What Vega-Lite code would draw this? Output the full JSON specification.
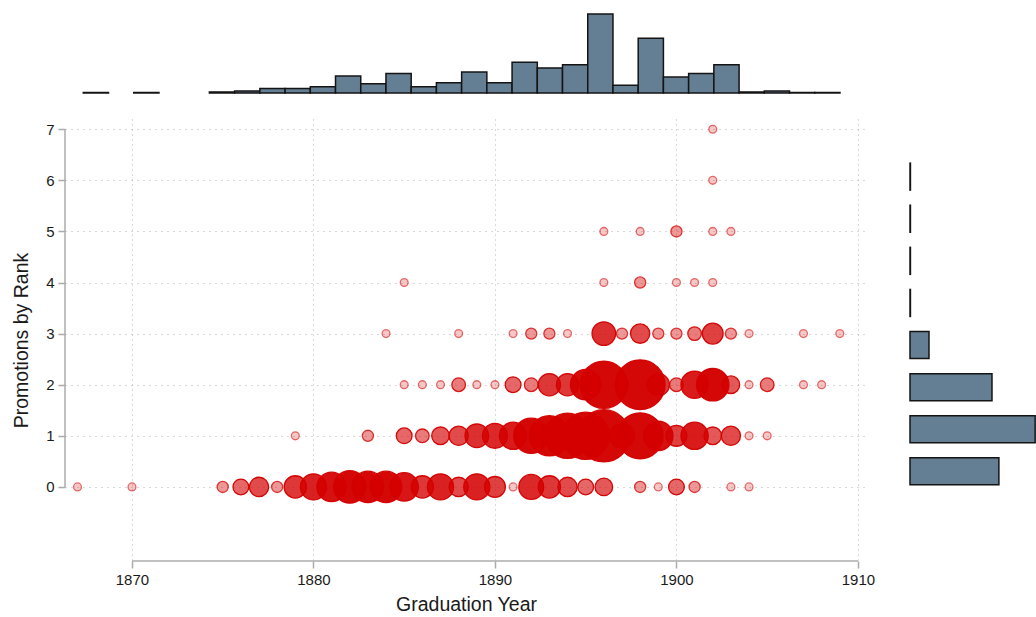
{
  "$schema": "https://vega.github.io/schema/vega-lite/v6.json",
  "background": "white",
  "padding": {"left": 11, "top": 11, "right": 0, "bottom": 0},
  "config": {
    "view": {"stroke": null},
    "font": "Liberation Sans",
    "axis": {
      "labelFont": "Liberation Sans",
      "labelFontSize": 15,
      "labelColor": "#1a1a1a",
      "titleFont": "Liberation Sans",
      "titleFontSize": 19.5,
      "titleFontWeight": "normal",
      "titleColor": "#1a1a1a",
      "domain": false,
      "grid": true,
      "gridColor": "#b5b5b5",
      "gridWidth": 1,
      "tickColor": "#ababab",
      "tickWidth": 1.5,
      "tickSize": 7,
      "labelPadding": 4
    }
  },
  "datasets": {
    "scatter": [
      {"year": 1867, "rank": 0, "count": 1}, {"year": 1870, "rank": 0, "count": 1}, {"year": 1875, "rank": 0, "count": 2},
      {"year": 1876, "rank": 0, "count": 4}, {"year": 1877, "rank": 0, "count": 6}, {"year": 1878, "rank": 0, "count": 2},
      {"year": 1879, "rank": 0, "count": 8}, {"year": 1880, "rank": 0, "count": 11}, {"year": 1881, "rank": 0, "count": 14},
      {"year": 1882, "rank": 0, "count": 17}, {"year": 1883, "rank": 0, "count": 16}, {"year": 1884, "rank": 0, "count": 16},
      {"year": 1885, "rank": 0, "count": 13}, {"year": 1886, "rank": 0, "count": 8}, {"year": 1887, "rank": 0, "count": 11},
      {"year": 1888, "rank": 0, "count": 6}, {"year": 1889, "rank": 0, "count": 11}, {"year": 1890, "rank": 0, "count": 7},
      {"year": 1891, "rank": 0, "count": 1}, {"year": 1892, "rank": 0, "count": 10}, {"year": 1893, "rank": 0, "count": 8},
      {"year": 1894, "rank": 0, "count": 6}, {"year": 1895, "rank": 0, "count": 4}, {"year": 1896, "rank": 0, "count": 5},
      {"year": 1898, "rank": 0, "count": 2}, {"year": 1899, "rank": 0, "count": 1}, {"year": 1900, "rank": 0, "count": 4},
      {"year": 1901, "rank": 0, "count": 2}, {"year": 1903, "rank": 0, "count": 1}, {"year": 1904, "rank": 0, "count": 1},
      {"year": 1879, "rank": 1, "count": 1}, {"year": 1883, "rank": 1, "count": 2}, {"year": 1885, "rank": 1, "count": 4},
      {"year": 1886, "rank": 1, "count": 3}, {"year": 1887, "rank": 1, "count": 5}, {"year": 1888, "rank": 1, "count": 6},
      {"year": 1889, "rank": 1, "count": 9}, {"year": 1890, "rank": 1, "count": 10}, {"year": 1891, "rank": 1, "count": 12},
      {"year": 1892, "rank": 1, "count": 20}, {"year": 1893, "rank": 1, "count": 26}, {"year": 1894, "rank": 1, "count": 33},
      {"year": 1895, "rank": 1, "count": 36}, {"year": 1896, "rank": 1, "count": 44}, {"year": 1897, "rank": 1, "count": 10},
      {"year": 1898, "rank": 1, "count": 34}, {"year": 1899, "rank": 1, "count": 14}, {"year": 1900, "rank": 1, "count": 7},
      {"year": 1901, "rank": 1, "count": 12}, {"year": 1902, "rank": 1, "count": 5}, {"year": 1903, "rank": 1, "count": 6},
      {"year": 1904, "rank": 1, "count": 1}, {"year": 1905, "rank": 1, "count": 1},
      {"year": 1885, "rank": 2, "count": 1}, {"year": 1886, "rank": 2, "count": 1}, {"year": 1887, "rank": 2, "count": 1},
      {"year": 1888, "rank": 2, "count": 3}, {"year": 1889, "rank": 2, "count": 1}, {"year": 1890, "rank": 2, "count": 1},
      {"year": 1891, "rank": 2, "count": 4}, {"year": 1892, "rank": 2, "count": 3}, {"year": 1893, "rank": 2, "count": 8},
      {"year": 1894, "rank": 2, "count": 8}, {"year": 1895, "rank": 2, "count": 15}, {"year": 1896, "rank": 2, "count": 36},
      {"year": 1897, "rank": 2, "count": 3}, {"year": 1898, "rank": 2, "count": 40}, {"year": 1899, "rank": 2, "count": 8},
      {"year": 1900, "rank": 2, "count": 3}, {"year": 1901, "rank": 2, "count": 12}, {"year": 1902, "rank": 2, "count": 17},
      {"year": 1903, "rank": 2, "count": 5}, {"year": 1904, "rank": 2, "count": 1}, {"year": 1905, "rank": 2, "count": 3},
      {"year": 1907, "rank": 2, "count": 1}, {"year": 1908, "rank": 2, "count": 1},
      {"year": 1884, "rank": 3, "count": 1}, {"year": 1888, "rank": 3, "count": 1}, {"year": 1891, "rank": 3, "count": 1},
      {"year": 1892, "rank": 3, "count": 2}, {"year": 1893, "rank": 3, "count": 2}, {"year": 1894, "rank": 3, "count": 1},
      {"year": 1896, "rank": 3, "count": 9}, {"year": 1897, "rank": 3, "count": 2}, {"year": 1898, "rank": 3, "count": 6},
      {"year": 1899, "rank": 3, "count": 2}, {"year": 1900, "rank": 3, "count": 2}, {"year": 1901, "rank": 3, "count": 3},
      {"year": 1902, "rank": 3, "count": 7}, {"year": 1903, "rank": 3, "count": 2}, {"year": 1904, "rank": 3, "count": 1},
      {"year": 1907, "rank": 3, "count": 1}, {"year": 1909, "rank": 3, "count": 1},
      {"year": 1885, "rank": 4, "count": 1}, {"year": 1896, "rank": 4, "count": 1}, {"year": 1898, "rank": 4, "count": 2},
      {"year": 1900, "rank": 4, "count": 1}, {"year": 1901, "rank": 4, "count": 1}, {"year": 1902, "rank": 4, "count": 1},
      {"year": 1896, "rank": 5, "count": 1}, {"year": 1898, "rank": 5, "count": 1}, {"year": 1900, "rank": 5, "count": 2},
      {"year": 1902, "rank": 5, "count": 1}, {"year": 1903, "rank": 5, "count": 1},
      {"year": 1902, "rank": 6, "count": 1}, {"year": 1902, "rank": 7, "count": 1}
    ],
    "tophist": [
      {"bin_start": 1867, "bin_end": 1868.4, "count": 1},
      {"bin_start": 1869.8, "bin_end": 1871.2, "count": 1},
      {"bin_start": 1874, "bin_end": 1875.4, "count": 2},
      {"bin_start": 1875.4, "bin_end": 1876.8, "count": 4},
      {"bin_start": 1876.8, "bin_end": 1878.2, "count": 9},
      {"bin_start": 1878.2, "bin_end": 1879.6, "count": 9},
      {"bin_start": 1879.6, "bin_end": 1881, "count": 12},
      {"bin_start": 1881, "bin_end": 1882.4, "count": 33},
      {"bin_start": 1882.4, "bin_end": 1883.8, "count": 18},
      {"bin_start": 1883.8, "bin_end": 1885.2, "count": 38},
      {"bin_start": 1885.2, "bin_end": 1886.6, "count": 12},
      {"bin_start": 1886.6, "bin_end": 1888, "count": 20},
      {"bin_start": 1888, "bin_end": 1889.4, "count": 41},
      {"bin_start": 1889.4, "bin_end": 1890.8, "count": 20},
      {"bin_start": 1890.8, "bin_end": 1892.2, "count": 60},
      {"bin_start": 1892.2, "bin_end": 1893.6, "count": 49},
      {"bin_start": 1893.6, "bin_end": 1895, "count": 55},
      {"bin_start": 1895, "bin_end": 1896.4, "count": 154},
      {"bin_start": 1896.4, "bin_end": 1897.8, "count": 15},
      {"bin_start": 1897.8, "bin_end": 1899.2, "count": 107},
      {"bin_start": 1899.2, "bin_end": 1900.6, "count": 31},
      {"bin_start": 1900.6, "bin_end": 1902, "count": 38},
      {"bin_start": 1902, "bin_end": 1903.4, "count": 55},
      {"bin_start": 1903.4, "bin_end": 1904.8, "count": 2},
      {"bin_start": 1904.8, "bin_end": 1906.2, "count": 4},
      {"bin_start": 1906.2, "bin_end": 1907.6, "count": 1},
      {"bin_start": 1907.6, "bin_end": 1909, "count": 1}
    ],
    "righthist": [
      {"rank": 0, "count": 206}, {"rank": 1, "count": 290}, {"rank": 2, "count": 190}, {"rank": 3, "count": 44},
      {"rank": 4, "count": 1}, {"rank": 5, "count": 1}, {"rank": 6, "count": 1}, {"rank": 7, "count": 1}
    ]
  },
  "columns": 2,
  "align": "each",
  "spacing": {"row": 25, "column": 34},
  "concat": [
    {
      "width": 802,
      "height": 82,
      "data": {"name": "tophist"},
      "mark": {"type": "bar", "fill": "#647f93", "stroke": "#141414", "strokeWidth": 1.5},
      "encoding": {
        "x": {"field": "bin_start", "type": "quantitative", "scale": {"domain": [1865.985, 1910.5], "nice": false, "zero": false}, "axis": null},
        "x2": {"field": "bin_end"},
        "y": {"field": "count", "type": "quantitative", "scale": {"domain": [0, 160], "nice": false}, "axis": null},
        "y2": {"datum": 0}
      }
    },
    {
      "width": 1,
      "height": 1,
      "data": {"values": []},
      "mark": "point"
    },
    {
      "width": 802,
      "height": 442,
      "layer": [
        {
          "data": {"name": "scatter"},
          "mark": {"type": "circle", "fill": "#d40000", "stroke": "#d40000", "strokeWidth": 1.3, "opacity": 1},
          "encoding": {
            "x": {"field": "year", "type": "quantitative", "title": "Graduation Year",
                  "scale": {"domain": [1866.31, 1910.5], "nice": false, "zero": false},
                  "axis": {"values": [1870, 1880, 1890, 1900, 1910], "format": "d", "gridDash": [1, 4], "titlePadding": 8}},
            "y": {"field": "rank", "type": "quantitative", "title": "Promotions by Rank",
                  "scale": {"domain": [-1.45, 7.2], "nice": false, "zero": false},
                  "axis": {"values": [0, 1, 2, 3, 4, 5, 6, 7], "gridDash": [1, 5], "titlePadding": 14, "minExtent": 20, "maxExtent": 20}},
            "size": {"field": "count", "type": "quantitative", "scale": {"type": "linear", "domain": [0, 100], "range": [0, 6200]}, "legend": null},
            "fillOpacity": {"field": "count", "type": "quantitative", "scale": {"type": "log", "domain": [1, 16], "range": [0.22, 0.97], "clamp": true}, "legend": null},
            "strokeOpacity": {"field": "count", "type": "quantitative", "scale": {"type": "log", "domain": [1, 4], "range": [0.55, 0.97], "clamp": true}, "legend": null}
          }
        },
        {
          "data": {"values": [{}]},
          "mark": {"type": "rule", "color": "#ababab", "strokeWidth": 1.5},
          "encoding": {
            "x": {"datum": 1866.31, "type": "quantitative"},
            "y": {"datum": 0, "type": "quantitative"},
            "y2": {"datum": 7}
          }
        },
        {
          "data": {"values": [{}]},
          "mark": {"type": "rule", "color": "#ababab", "strokeWidth": 1.5},
          "encoding": {
            "y": {"datum": -1.45, "type": "quantitative"},
            "x": {"datum": 1870, "type": "quantitative"},
            "x2": {"datum": 1910}
          }
        }
      ]
    },
    {
      "width": 126,
      "height": 442,
      "data": {"name": "righthist"},
      "mark": {"type": "bar", "orient": "horizontal", "height": 27, "fill": "#647f93", "stroke": "#141414", "strokeWidth": 1.5},
      "encoding": {
        "y": {"field": "rank", "type": "quantitative", "scale": {"domain": [-2.01, 8.25], "nice": false, "zero": false}, "axis": null},
        "x": {"field": "count", "type": "quantitative", "scale": {"domain": [0, 292], "nice": false}, "axis": null}
      }
    }
  ]
}
